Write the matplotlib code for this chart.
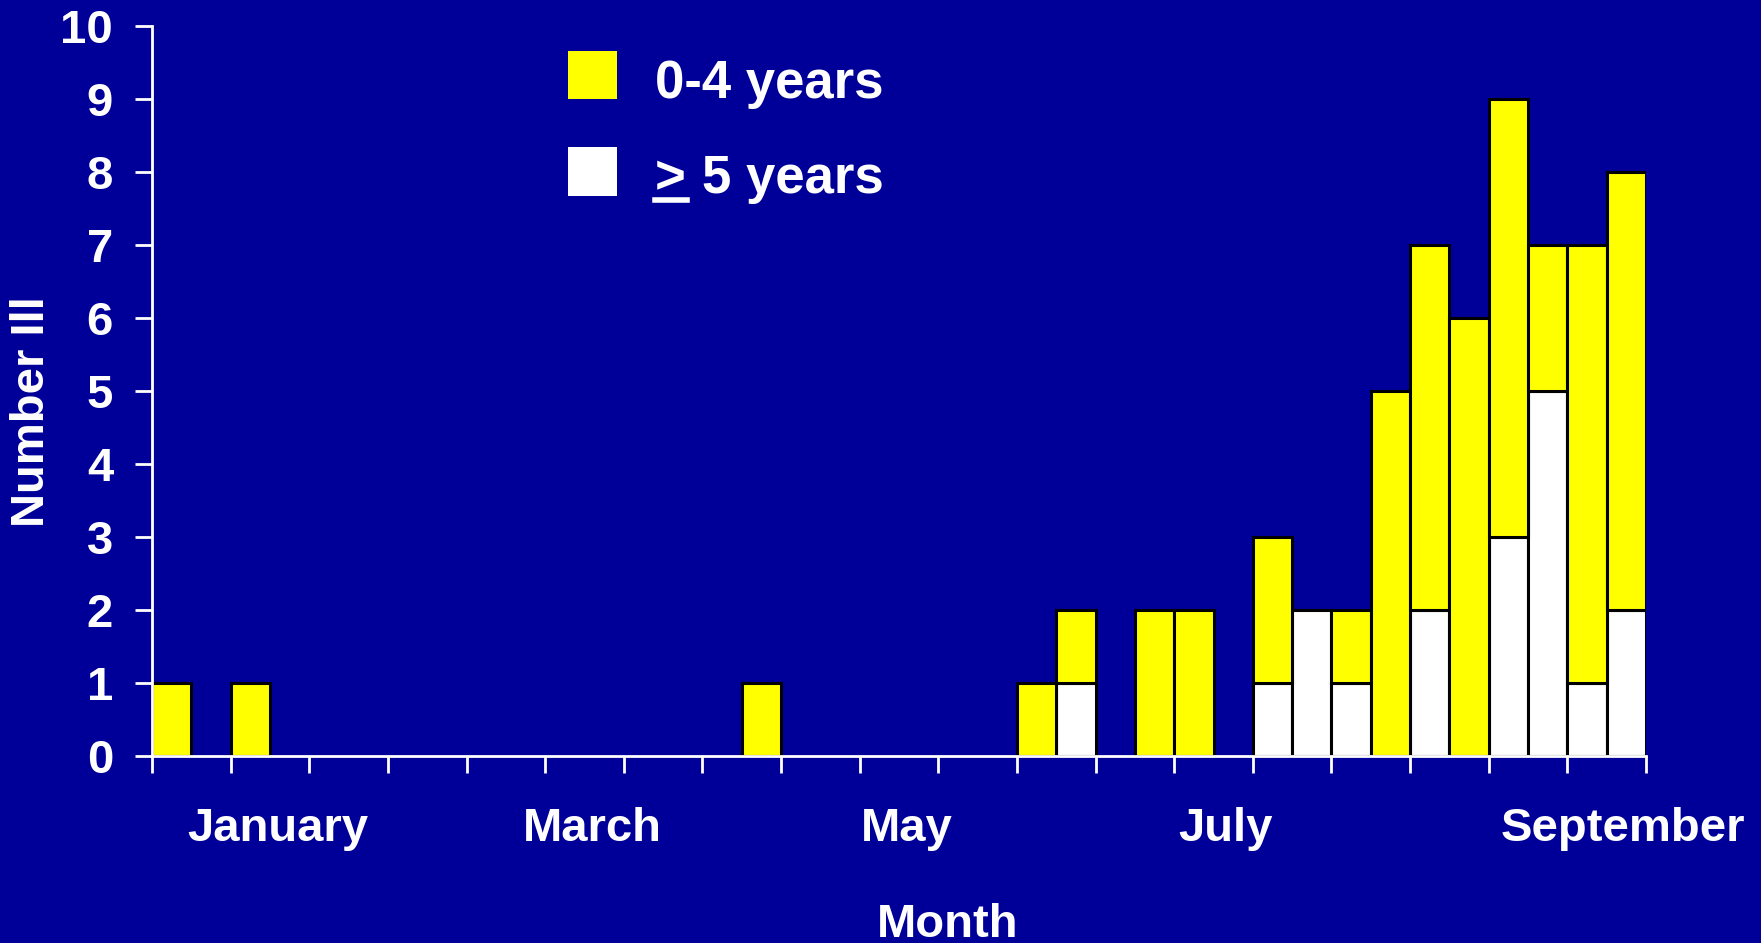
#!/usr/bin/env python3
"""
Weekly cases by age group: stacked bars, 0-4 years on top of >=5 years
"""

import numpy as np
import matplotlib
matplotlib.use('Agg')
import matplotlib.pyplot as plt
from matplotlib.patches import Rectangle
from matplotlib.lines import Line2D

plt.rcParams['font.family'] = ['Liberation Sans', 'DejaVu Sans']
plt.rcParams['font.weight'] = 'bold'

# Two-week-ish bins along the year, 38 slots
n_bins = 38
older = np.zeros(n_bins)      # >= 5 years (white, bottom)
younger = np.zeros(n_bins)    # 0-4 years (yellow, top)

# slot: (>=5 years, 0-4 years)
counts = {
    0: (0, 1), 2: (0, 1), 15: (0, 1),
    22: (0, 1), 23: (1, 1),
    25: (0, 2), 26: (0, 2),
    28: (1, 2), 29: (2, 0), 30: (1, 1),
    31: (0, 5), 32: (2, 5), 33: (0, 6),
    34: (3, 6), 35: (5, 2), 36: (1, 6), 37: (2, 6),
}
for slot, (o, y) in counts.items():
    older[slot] = o
    younger[slot] = y

month_labels = ['January', 'March', 'May', 'July', 'September']
month_pos = [3.2, 11.2, 19.2, 27.3, 37.4]

BG = '#000099'
YELLOW = '#FFFF00'
WHITE = '#FFFFFF'


def plot_cases():
    fig = plt.figure(figsize=(17.61, 9.43), dpi=100, facecolor=BG)
    ax = fig.add_axes([152 / 1761, 1 - 756 / 943, (1646 - 152) / 1761, (756 - 26) / 943])
    ax.set_facecolor(BG)

    x = np.arange(n_bins)
    ax.bar(x[older > 0], older[older > 0], width=1, align='edge', color=WHITE,
           edgecolor='black', linewidth=2.2)
    ax.bar(x[younger > 0], younger[younger > 0], width=1, align='edge',
           bottom=older[younger > 0], color=YELLOW, edgecolor='black', linewidth=2.2)

    ax.set_xlim(0, n_bins)
    ax.set_ylim(0, 10)

    for side in ['top', 'right']:
        ax.spines[side].set_visible(False)
    for side in ['left', 'bottom']:
        ax.spines[side].set_color(WHITE)
        ax.spines[side].set_linewidth(2)

    ax.set_yticks(range(0, 11))
    ax.set_xticks(range(0, n_bins + 1, 2))
    ax.set_xticklabels([])
    ax.set_xticks(month_pos, minor=True)
    ax.set_xticklabels(month_labels, minor=True)
    ax.tick_params(axis='both', which='major', colors=WHITE, width=2, length=12,
                   direction='out')
    ax.tick_params(axis='y', labelsize=34, pad=16)
    ax.tick_params(axis='x', which='minor', length=0, labelsize=34, pad=37,
                   colors=WHITE)
    for lab in ax.get_yticklabels() + ax.get_xticklabels(minor=True):
        lab.set_fontweight('bold')

    fig.text(32 / 1761, 1 - 412 / 943, 'Number Ill', rotation=90, ha='center',
             va='center', color=WHITE, fontsize=34, fontweight='bold')
    fig.text(948 / 1761, 1 - 937 / 943, 'Month', ha='center', va='baseline',
             color=WHITE, fontsize=34, fontweight='bold')

    # Legend drawn by hand
    W, H = 1761, 943
    fig.patches.append(Rectangle((568 / W, 1 - 99 / H), 49 / W, 48 / H,
                                 transform=fig.transFigure, facecolor=YELLOW,
                                 edgecolor='none'))
    fig.patches.append(Rectangle((568 / W, 1 - 196 / H), 49 / W, 49 / H,
                                 transform=fig.transFigure, facecolor=WHITE,
                                 edgecolor='none'))
    fig.text(655 / W, 1 - 98 / H, '0-4 years', ha='left', va='baseline',
             color=WHITE, fontsize=38, fontweight='bold')
    fig.text(655 / W, 1 - 193 / H, '>', ha='left', va='baseline',
             color=WHITE, fontsize=38, fontweight='bold')
    fig.text(702 / W, 1 - 193 / H, '5 years', ha='left', va='baseline',
             color=WHITE, fontsize=38, fontweight='bold')
    fig.lines.append(Line2D([655 / W, 687 / W], [1 - 200 / H, 1 - 200 / H],
                            transform=fig.transFigure, color=WHITE, linewidth=4))

    fig.savefig('out.png', dpi=100, facecolor=BG)
    plt.close(fig)


if __name__ == '__main__':
    plot_cases()
